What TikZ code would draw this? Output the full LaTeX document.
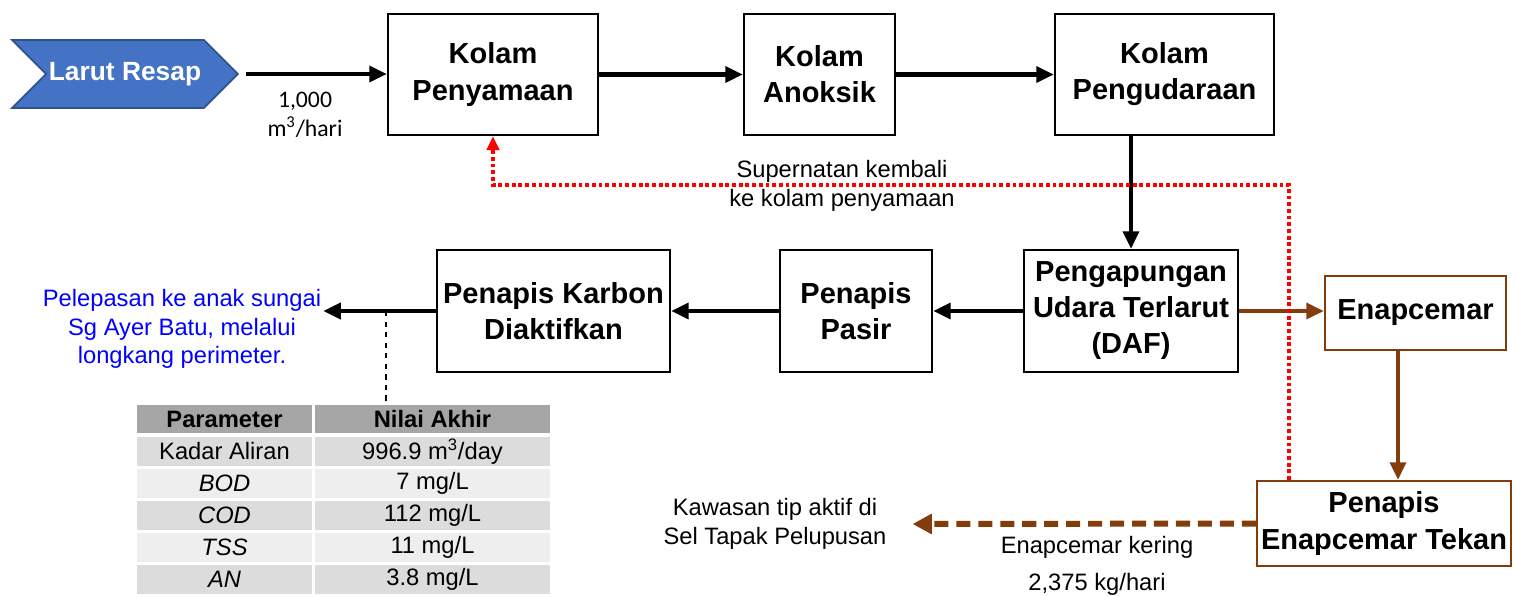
\documentclass[tikz,border=0pt]{standalone}
\usepackage{fontspec}
\setmainfont{Liberation Sans}
\newfontfamily\calfont{Carlito}
\usetikzlibrary{arrows.meta,calc,shapes.symbols}
\definecolor{sludge}{HTML}{843C0C}
\definecolor{chevfill}{HTML}{4472C4}
\definecolor{chevline}{HTML}{2F528F}
\definecolor{headgray}{HTML}{A6A6A6}
\definecolor{darkrow}{HTML}{DCDCDC}
\definecolor{lightrow}{HTML}{EEEEEE}

\begin{document}
\begin{tikzpicture}[x=0.02cm,y=-0.02cm,
		unit/.style={draw,line width=1.3pt,minimum height=2.42cm,inner sep=2pt,align=center,font=\fontsize{16.5}{20.5}\selectfont\bfseries},
		flow/.style={line width=2.3pt,-{Triangle[length=10pt,width=9pt]}},
		recyc/.style={red,line width=2pt,dash pattern=on 2.2pt off 1.6pt,-{Triangle[length=8pt,width=7pt]}},
		note/.style={align=center,inner sep=1pt,font=\fontsize{13.5}{16.2}\selectfont},
		cell/.style={fill=#1,inner sep=0pt,minimum height=0.58cm,font=\fontsize{13.5}{16}\selectfont}]
		\useasboundingbox (0,0) rectangle (1514,596);
		% input and the three ponds
		\node[signal,signal from=west,signal to=east,fill=chevfill,draw=chevline,line width=1pt,inner xsep=0pt,
			minimum width=4.52cm,minimum height=1.36cm,text=white,font=\fontsize{15}{18}\selectfont\bfseries] (resap) at (125,74) {Larut Resap};
		\node[unit,minimum width=4.2cm] (penyamaan) at (493,74.5) {Kolam\\Penyamaan};
		\node[unit,minimum width=3.02cm] (anoksik) at (819.5,74.5) {Kolam\\Anoksik};
		\node[unit,minimum width=4.38cm] (pengudaraan) at (1164.5,74.5) {Kolam\\Pengudaraan};
		\node[note,font=\calfont\fontsize{13.5}{16.4}\selectfont] (debit) at (305,115) {1,000\\m\textsuperscript{3}/hari};
		\draw[flow,shorten <=4pt] (resap.east) -- (resap.east -| penyamaan.west);
		\draw[flow] (penyamaan) -- (anoksik);
		\draw[flow] (anoksik) -- (pengudaraan);
		% treatment line
		\node[unit,minimum width=4.28cm,minimum height=2.44cm] (daf) at (1131,311) {Pengapungan\\Udara Terlarut\\(DAF)};
		\node[unit,minimum width=3.04cm,minimum height=2.44cm] (pasir) at (856,311) {Penapis\\Pasir};
		\node[unit,minimum width=4.66cm,minimum height=2.44cm] (karbon) at (553.5,311) {Penapis Karbon\\Diaktifkan};
		\node[note,text=blue,font=\fontsize{13.5}{16.4}\selectfont] (sungai) at (182,329) {Pelepasan ke anak sungai\\Sg Ayer Batu, melalui\\longkang perimeter.};
		\draw[flow] (daf.north |- pengudaraan.south) -- (daf.north);
		\draw[flow] (daf) -- (pasir);
		\draw[flow] (pasir) -- (karbon);
		\draw[flow] (karbon.west) -- (karbon.west -| sungai.east);
		% sludge line
		\node[unit,draw=sludge,minimum width=3.62cm,minimum height=1.48cm] (enap) at (1415.5,313) {Enapcemar};
		\node[unit,draw=sludge,minimum width=5.08cm,minimum height=1.7cm] (tekan) at (1384,523.5) {Penapis\\Enapcemar Tekan};
		\node[note] (tapak) at (775,524) {Kawasan tip aktif di\\Sel Tapak Pelupusan};
		\node[note] (kering) at (1097,566) {Enapcemar kering\\[4.5pt]2,375 kg/hari};
		\draw[flow,sludge] (daf.east) -- (daf.east -| enap.west);
		\draw[flow,sludge] ([xshift=-0.35cm]enap.south) -- ([xshift=-0.35cm]enap.south |- tekan.north);
		\draw[flow,sludge,line width=3.4pt,dash pattern=on 8pt off 4.5pt,-{Triangle[length=11pt,width=11pt]}] (tekan.west) -- ($(tapak.east)+(24,0)$);
		% supernatant return
		\draw[recyc] ([xshift=0.66cm]tekan.north west) -- ++(0,-295) -| (penyamaan.south);
		\node[note] (retur) at (842,186) {Supernatan kembali\\ke kolam penyamaan};
		% final quality table
		\node[cell=headgray,minimum width=3.5cm,minimum height=0.56cm,font=\fontsize{13.5}{16}\selectfont\bfseries] (p0) at (224.5,419) {Parameter};
		\node[cell=headgray,minimum width=4.7cm,minimum height=0.56cm,font=\fontsize{13.5}{16}\selectfont\bfseries] (v0) at (432.5,419) {Nilai Akhir};
		\foreach \p/\v/\c [count=\i] in {{Kadar Aliran}/{996.9 m\textsuperscript{3}/day}/darkrow,
				{\textit{BOD}}/{7 mg/L}/lightrow, {\textit{COD}}/{112 mg/L}/darkrow,
				{\textit{TSS}}/{11 mg/L}/lightrow, {\textit{AN}}/{3.8 mg/L}/darkrow}{
			\node[cell=\c,minimum width=3.5cm] (p\i) at (224.5,{451.5+32*(\i-1)}) {\p};
			\node[cell=\c,minimum width=4.7cm] (v\i) at (432.5,{451.5+32*(\i-1)}) {\v};
		}
		\coordinate (tap) at (386,311);
		\draw[dashed,line width=1.2pt] (tap) -- (tap |- v0.north);
	\end{tikzpicture}
\end{document}
